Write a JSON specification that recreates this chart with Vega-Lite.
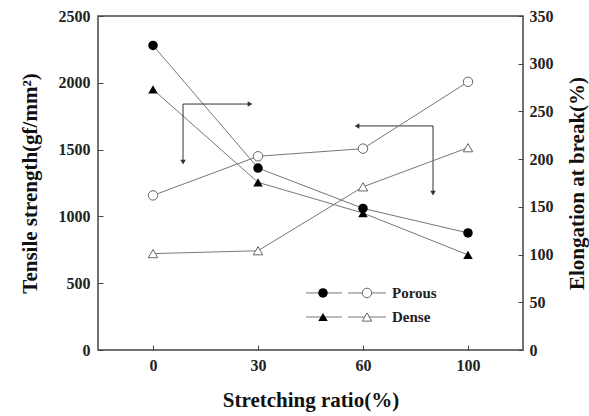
{
  "$schema": "https://vega.github.io/schema/vega-lite/v6.json",
  "width": 425,
  "height": 334,
  "autosize": {"type": "none"},
  "padding": {"left": 98, "top": 16, "right": 66, "bottom": 66},
  "background": "white",
  "config": {
    "view": {"stroke": "#444", "strokeWidth": 1.5},
    "font": "Liberation Serif",
    "axis": {
      "domain": false,
      "grid": false,
      "ticks": true,
      "tickSize": -5,
      "tickColor": "#444",
      "labelFont": "Liberation Serif",
      "labelFontWeight": "bold",
      "labelFontSize": 16,
      "labelColor": "#222",
      "labelPadding": 13,
      "format": "d",
      "titleFont": "Liberation Serif",
      "titleFontWeight": "bold",
      "titleFontSize": 21,
      "titleColor": "#111"
    }
  },
  "encoding": {
    "x": {
      "field": "i",
      "type": "quantitative",
      "scale": {"domain": [-0.524, 3.524], "nice": false, "zero": false},
      "axis": {
        "title": "Stretching ratio(%)",
        "values": [0, 1, 2, 3],
        "labelExpr": "['0','30','60','100'][datum.value]",
        "labelPadding": 12,
        "titlePadding": 16
      }
    }
  },
  "layer": [
    {
      "encoding": {
        "y": {
          "field": "v",
          "type": "quantitative",
          "scale": {"domain": [0, 2500], "nice": false},
          "axis": {
            "title": "Tensile strength(gf/mm²)",
            "values": [0, 500, 1000, 1500, 2000, 2500],
            "titlePadding": 18
          }
        }
      },
      "layer": [
        {
          "data": {"values": [
            {"i": 0, "ratio": "0", "type": "Porous", "v": 2280},
            {"i": 1, "ratio": "30", "type": "Porous", "v": 1362},
            {"i": 2, "ratio": "60", "type": "Porous", "v": 1060},
            {"i": 3, "ratio": "100", "type": "Porous", "v": 876},
            {"i": 0, "ratio": "0", "type": "Dense", "v": 1950},
            {"i": 1, "ratio": "30", "type": "Dense", "v": 1255},
            {"i": 2, "ratio": "60", "type": "Dense", "v": 1025},
            {"i": 3, "ratio": "100", "type": "Dense", "v": 712}
          ]},
          "layer": [
            {
              "mark": {"type": "line", "color": "#777", "strokeWidth": 1},
              "encoding": {"detail": {"field": "type"}}
            },
            {
              "mark": {"type": "point", "filled": true, "color": "#000", "size": 90, "opacity": 1},
              "encoding": {
                "shape": {
                  "field": "type",
                  "type": "nominal",
                  "scale": {"domain": ["Porous", "Dense"], "range": ["circle", "triangle-up"]},
                  "legend": null
                }
              }
            }
          ]
        },
        {
          "data": {"values": [
            {"i": 0.286, "i2": 0.924, "v": 1841, "v2": 1841},
            {"i": 0.286, "i2": 0.286, "v": 1841, "v2": 1407},
            {"i": 2.667, "i2": 1.943, "v": 1677, "v2": 1677},
            {"i": 2.667, "i2": 2.667, "v": 1677, "v2": 1175}
          ]},
          "mark": {"type": "rule", "color": "#333", "strokeWidth": 1},
          "encoding": {"x2": {"field": "i2"}, "y2": {"field": "v2"}}
        },
        {
          "data": {"values": [{"i": 0.924, "v": 1841}]},
          "mark": {"type": "point", "shape": "triangle-right", "filled": true, "color": "#333", "size": 30, "opacity": 1},
          "encoding": {}
        },
        {
          "data": {"values": [{"i": 1.943, "v": 1677}]},
          "mark": {"type": "point", "shape": "triangle-left", "filled": true, "color": "#333", "size": 30, "opacity": 1},
          "encoding": {}
        },
        {
          "data": {"values": [{"i": 0.286, "v": 1407}, {"i": 2.667, "v": 1175}]},
          "mark": {"type": "point", "shape": "triangle-down", "filled": true, "color": "#333", "size": 30, "opacity": 1},
          "encoding": {}
        },
        {
          "data": {"values": [
            {"i": 1.457, "i2": 1.8, "v": 427},
            {"i": 1.857, "i2": 2.219, "v": 427},
            {"i": 1.457, "i2": 1.8, "v": 247},
            {"i": 1.857, "i2": 2.219, "v": 247}
          ]},
          "mark": {"type": "rule", "color": "#777", "strokeWidth": 1},
          "encoding": {"x2": {"field": "i2"}}
        },
        {
          "data": {"values": [
            {"i": 1.619, "v": 427, "type": "Porous"},
            {"i": 1.619, "v": 247, "type": "Dense"}
          ]},
          "mark": {"type": "point", "filled": true, "color": "#000", "size": 90, "opacity": 1},
          "encoding": {
            "shape": {
              "field": "type",
              "type": "nominal",
              "scale": {"domain": ["Porous", "Dense"], "range": ["circle", "triangle-up"]},
              "legend": null
            }
          }
        },
        {
          "data": {"values": [
            {"i": 2.038, "v": 427, "type": "Porous"},
            {"i": 2.038, "v": 247, "type": "Dense"}
          ]},
          "mark": {"type": "point", "filled": true, "fill": "white", "stroke": "#666", "strokeWidth": 1, "size": 90, "opacity": 1},
          "encoding": {
            "shape": {
              "field": "type",
              "type": "nominal",
              "scale": {"domain": ["Porous", "Dense"], "range": ["circle", "triangle-up"]},
              "legend": null
            }
          }
        },
        {
          "data": {"values": [
            {"i": 2.276, "v": 427, "label": "Porous"},
            {"i": 2.276, "v": 247, "label": "Dense"}
          ]},
          "mark": {"type": "text", "align": "left", "baseline": "middle", "font": "Liberation Serif", "fontWeight": "bold", "fontSize": 15, "color": "#222"},
          "encoding": {"text": {"field": "label"}}
        }
      ]
    },
    {
      "data": {"values": [
        {"i": 0, "ratio": "0", "type": "Porous", "e": 162},
        {"i": 1, "ratio": "30", "type": "Porous", "e": 203},
        {"i": 2, "ratio": "60", "type": "Porous", "e": 211},
        {"i": 3, "ratio": "100", "type": "Porous", "e": 281},
        {"i": 0, "ratio": "0", "type": "Dense", "e": 101},
        {"i": 1, "ratio": "30", "type": "Dense", "e": 104},
        {"i": 2, "ratio": "60", "type": "Dense", "e": 171},
        {"i": 3, "ratio": "100", "type": "Dense", "e": 212}
      ]},
      "encoding": {
        "y": {
          "field": "e",
          "type": "quantitative",
          "scale": {"domain": [0, 350], "nice": false},
          "axis": {
            "orient": "right",
            "title": "Elongation at break(%)",
            "titleAngle": 270,
            "values": [0, 50, 100, 150, 200, 250, 300, 350],
            "labelPadding": 11,
            "titlePadding": 34
          }
        }
      },
      "layer": [
        {
          "mark": {"type": "line", "color": "#777", "strokeWidth": 1},
          "encoding": {"detail": {"field": "type"}}
        },
        {
          "mark": {"type": "point", "filled": true, "fill": "white", "stroke": "#666", "strokeWidth": 1, "size": 90, "opacity": 1},
          "encoding": {
            "shape": {
              "field": "type",
              "type": "nominal",
              "scale": {"domain": ["Porous", "Dense"], "range": ["circle", "triangle-up"]},
              "legend": null
            }
          }
        }
      ]
    }
  ],
  "resolve": {"scale": {"y": "independent"}}
}
